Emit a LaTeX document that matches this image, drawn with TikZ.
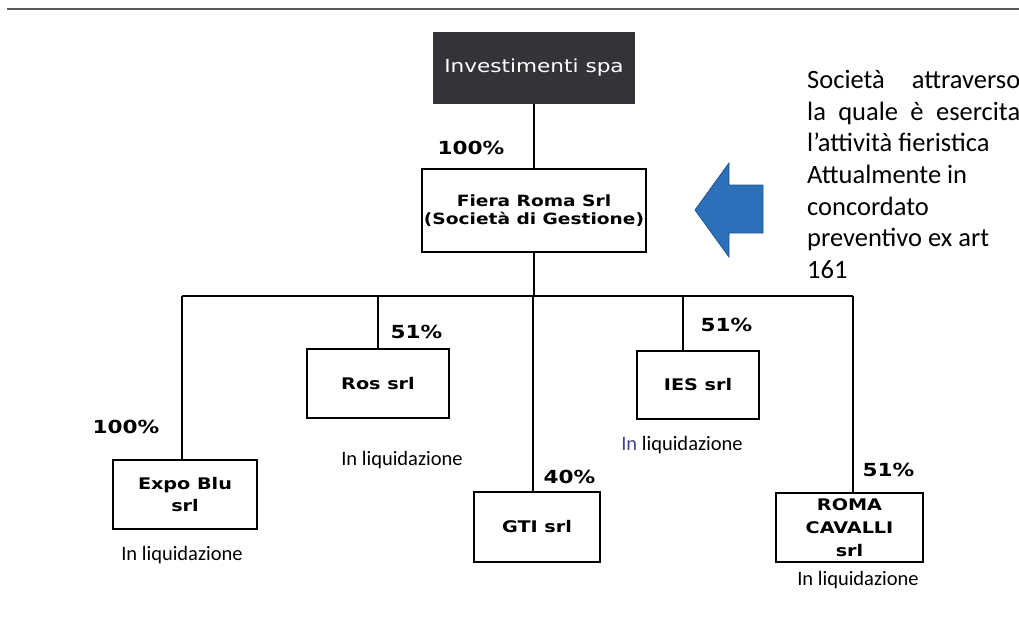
\documentclass[tikz,border=0pt]{standalone}
\usepackage{fontspec}
\newfontfamily\boxfont{DejaVu Sans}[FakeStretch=1.2]
\newfontfamily\notefont{Carlito}
\usetikzlibrary{calc}
\definecolor{boxdark}{RGB}{50,52,56}
\definecolor{arrowblue}{RGB}{44,112,186}
\definecolor{arrowedge}{RGB}{30,85,150}
\definecolor{rulegray}{RGB}{90,90,95}
\definecolor{liqblue}{RGB}{70,70,140}
\tikzset{
  orgbox/.style = {draw=black, line width=1.5pt, fill=white, align=center, inner sep=0pt, font=\boxfont\bfseries\fontsize{16}{22}\selectfont},
  darkbox/.style = {orgbox, draw=boxdark, fill=boxdark, text=white, font=\boxfont\fontsize{18}{22}\selectfont},
  pct/.style = {inner sep=0pt, font=\boxfont\bfseries\fontsize{18}{22}\selectfont},
  liq/.style = {inner sep=0pt, font=\notefont\fontsize{20.5}{24}\selectfont},
  note/.style = {anchor=north west, align=left, inner sep=0pt, font=\notefont\fontsize{26.5}{31.7}\selectfont},
  link/.style = {line width=1.5pt},
  busline/.style = {line width=2.5pt}
}

\begin{document}
\begin{tikzpicture}[x=1pt,y=-1pt]
			\useasboundingbox[fill=white] (0,0) rectangle (1019,629);
			\draw[rulegray, line width=2pt] (7,9) -- (1019,9);

			\node[darkbox, minimum width=201pt, minimum height=70pt] (inv) at (534,68) {Investimenti spa};
			\node[orgbox, minimum width=224pt, minimum height=83pt, font=\boxfont\bfseries\fontsize{15.5}{18.3}\selectfont] (fiera) at (534,210.5) {Fiera Roma Srl\\(Società di Gestione)};
			\node[orgbox, minimum width=144pt, minimum height=69pt] (expo) at (185,494.5) {Expo Blu\\srl};
			\node[orgbox, minimum width=142pt, minimum height=69pt] (ros) at (378,383.5) {Ros srl};
			\node[orgbox, minimum width=126pt, minimum height=70pt] (gti) at (537,527) {GTI srl};
			\node[orgbox, minimum width=122pt, minimum height=68pt] (ies) at (698,385) {IES srl};
			\node[orgbox, minimum width=147pt, minimum height=69pt, font=\boxfont\bfseries\fontsize{16}{23}\selectfont] (roma) at (849.5,527.5) {ROMA\\CAVALLI\\srl};

			\coordinate (bus) at (534,296);
			\draw[link] (inv) -- (fiera);
			\draw[link] (fiera.south) -- (fiera.south |- bus);
			\draw[busline] ([xshift=-3pt]expo.north |- bus) -- ([xshift=3.5pt]roma.north |- bus);
			\draw[link] ([xshift=-3pt]expo.north) -- ([xshift=-3pt]expo.north |- bus);
			\draw[link] (ros.north) -- (ros.north |- bus);
			\draw[link] ([xshift=-4pt]gti.north) -- ([xshift=-4pt]gti.north |- bus);
			\draw[link] ([xshift=-15pt]ies.north) -- ([xshift=-15pt]ies.north |- bus);
			\draw[link] ([xshift=3.5pt]roma.north) -- ([xshift=3.5pt]roma.north |- bus);

			\node[pct] (pinv) at (471,148) {100\%};
			\node[pct] (pexpo) at (126,427) {100\%};
			\node[pct] (pros) at (416.5,332) {51\%};
			\node[pct] (pgti) at (569.5,477) {40\%};
			\node[pct] (pies) at (726.5,325) {51\%};
			\node[pct] (proma) at (888.5,470) {51\%};

			\node[liq] (lexpo) at (182,555) {In liquidazione};
			\node[liq] (lros) at (402,460) {In liquidazione};
			\node[liq] (lies) at (682,445) {\textcolor{liqblue}{In} liquidazione};
			\node[liq] (lroma) at (858,580) {In liquidazione};

			\fill[arrowblue, draw=arrowedge, line width=0.8pt] (695,210) -- (729,163) -- (729,185) -- (763,185) -- (763,233) -- (729,233) -- (729,257) -- cycle;
			\node[note] (note) at (807,70) {\makebox[213pt][s]{Società attraverso}\\\makebox[213pt][s]{la quale è esercita}\\l’attività fieristica\\Attualmente in\\concordato\\preventivo ex art\\161};
		\end{tikzpicture}
\end{document}
